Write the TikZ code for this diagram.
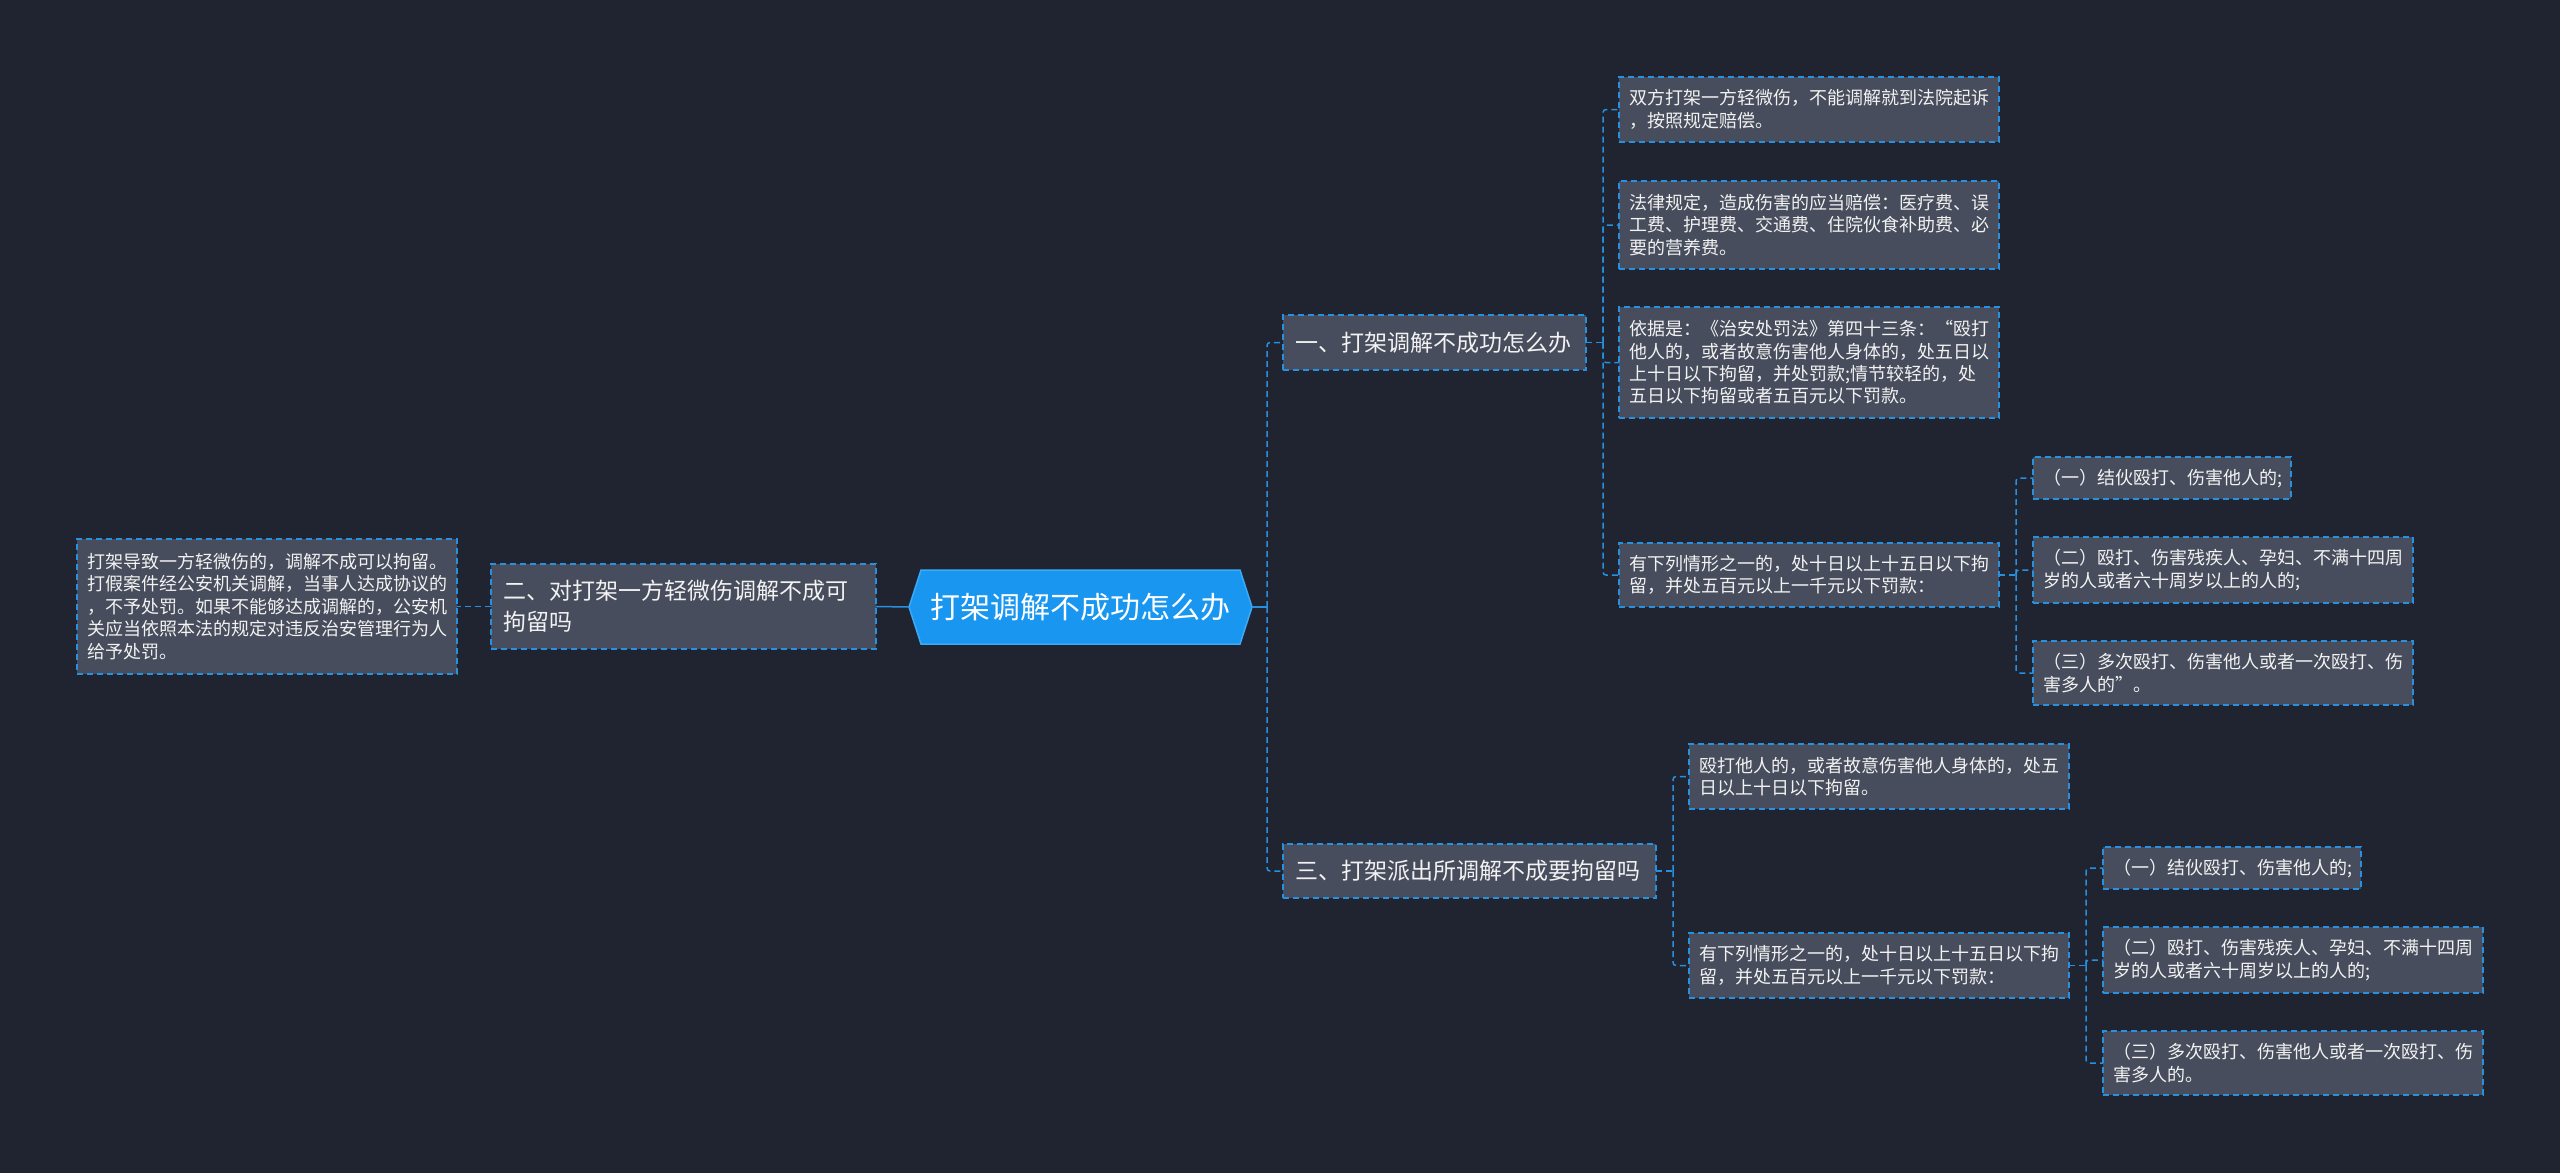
\documentclass[tikz,border=0pt]{standalone}
\usepackage{fontspec}
\setmainfont{Noto Sans CJK SC}
\usetikzlibrary{backgrounds}
\definecolor{bg}{RGB}{32,36,48}
\definecolor{boxfill}{RGB}{71,77,92}
\definecolor{edgeblue}{RGB}{38,145,225}
\definecolor{rootblue}{RGB}{25,150,240}
\definecolor{rootedge}{RGB}{60,170,245}
\definecolor{txt}{RGB}{242,242,242}
\tikzset{
  box/.style={draw=edgeblue, fill=boxfill, dash pattern=on 6pt off 4pt, line width=1.5pt,
    text=txt, align=left, inner xsep=10pt, inner ysep=0pt, outer sep=0pt},
  leaf/.style={box, font=\fontsize{18}{22.4}\selectfont},
  branch/.style={box, inner xsep=12pt, font=\fontsize{23}{31}\selectfont},
  rootnode/.style={minimum width=343pt, minimum height=74pt,
    text=white, inner sep=0pt, outer sep=0pt, font=\fontsize{30}{34}\selectfont},
  roothex/.style={fill=rootblue, draw=rootedge, line width=1.5pt},
  conn/.style={draw=edgeblue, line width=1.5pt},
  dconn/.style={conn, dash pattern=on 6pt off 4pt, rounded corners=3pt},
}
\begin{document}
\begin{tikzpicture}[x=1pt,y=-1pt]
\useasboundingbox (0,0) rectangle (2560,1173);
\begin{pgfonlayer}{background}
\fill[bg] (0,0) rectangle (2560,1173);
\end{pgfonlayer}

% root
\node[rootnode] (root) at (1080.5,607) {打架调解不成功怎么办};
\begin{pgfonlayer}{background}
\path[roothex] (root.west) -- ([xshift=12pt]root.north west) -- ([xshift=-12pt]root.north east)
  -- (root.east) -- ([xshift=-12pt]root.south east) -- ([xshift=12pt]root.south west) -- cycle;
\end{pgfonlayer}

% left side
\node[branch, minimum width=385pt, minimum height=85pt, text width=361pt] (L) at (683.5,606.5)
  {二、对打架一方轻微伤调解不成可\\拘留吗};
\node[leaf, minimum width=380pt, minimum height=135pt, text width=360pt] (LL) at (267,606.5)
  {打架导致一方轻微伤的，调解不成可以拘留。\\打假案件经公安机关调解，当事人达成协议的\\，不予处罚。如果不能够达成调解的，公安机\\关应当依照本法的规定对违反治安管理行为人\\给予处罚。};

% branch 1
\node[branch, minimum width=303pt, minimum height=55pt, text width=279pt] (B1) at (1434.5,342.5)
  {一、打架调解不成功怎么办};
\node[leaf, minimum width=380pt, minimum height=65pt, text width=360pt] (A1) at (1809,109.5)
  {双方打架一方轻微伤，不能调解就到法院起诉\\，按照规定赔偿。};
\node[leaf, minimum width=380pt, minimum height=88pt, text width=360pt] (A2) at (1809,225)
  {法律规定，造成伤害的应当赔偿：医疗费、误\\工费、护理费、交通费、住院伙食补助费、必\\要的营养费。};
\node[leaf, minimum width=380pt, minimum height=111pt, text width=360pt] (A3) at (1809,362.5)
  {依据是：《治安处罚法》第四十三条：“殴打\\他人的，或者故意伤害他人身体的，处五日以\\上十日以下拘留，并处罚款;情节较轻的，处\\五日以下拘留或者五百元以下罚款。};
\node[leaf, minimum width=380pt, minimum height=64pt, text width=360pt] (A4) at (1809,575)
  {有下列情形之一的，处十日以上十五日以下拘\\留，并处五百元以上一千元以下罚款：};
\node[leaf, minimum width=258pt, minimum height=42pt, text width=238pt] (G1) at (2162,478)
  {（一）结伙殴打、伤害他人的;};
\node[leaf, minimum width=380pt, minimum height=66pt, text width=360pt] (G2) at (2223,570)
  {（二）殴打、伤害残疾人、孕妇、不满十四周\\岁的人或者六十周岁以上的人的;};
\node[leaf, minimum width=380pt, minimum height=64pt, text width=360pt] (G3) at (2223,673)
  {（三）多次殴打、伤害他人或者一次殴打、伤\\害多人的”。};

% branch 3
\node[branch, minimum width=373pt, minimum height=54pt, text width=349pt] (B3) at (1469.5,871)
  {三、打架派出所调解不成要拘留吗};
\node[leaf, minimum width=380pt, minimum height=65pt, text width=360pt] (C1) at (1879,776.5)
  {殴打他人的，或者故意伤害他人身体的，处五\\日以上十日以下拘留。};
\node[leaf, minimum width=380pt, minimum height=65pt, text width=360pt] (C2) at (1879,965.5)
  {有下列情形之一的，处十日以上十五日以下拘\\留，并处五百元以上一千元以下罚款：};
\node[leaf, minimum width=258pt, minimum height=42pt, text width=238pt] (D1) at (2232,868)
  {（一）结伙殴打、伤害他人的;};
\node[leaf, minimum width=380pt, minimum height=66pt, text width=360pt] (D2) at (2293,960)
  {（二）殴打、伤害残疾人、孕妇、不满十四周\\岁的人或者六十周岁以上的人的;};
\node[leaf, minimum width=380pt, minimum height=64pt, text width=360pt] (D3) at (2293,1063)
  {（三）多次殴打、伤害他人或者一次殴打、伤\\害多人的。};

% connectors
\coordinate (tR) at ([xshift=15pt]root.east);
\draw[conn] (root.east) -- (tR);
\draw[dconn] (tR) |- (B1.west);
\draw[dconn] (tR) |- (B3.west);
\draw[conn] (root.west) -- (L.east);
\draw[dconn] (L.west) -- (LL.east);

\coordinate (t1) at ([xshift=17pt]B1.east);
\draw[dconn] (B1.east) -- (t1);
\foreach \n in {A1,A2,A3,A4} \draw[dconn] (t1) |- (\n.west);

\coordinate (t4) at ([xshift=17pt]A4.east);
\draw[dconn] (A4.east) -- (t4);
\foreach \n in {G1,G2,G3} \draw[dconn] (t4) |- (\n.west);

\coordinate (t3) at ([xshift=17pt]B3.east);
\draw[dconn] (B3.east) -- (t3);
\foreach \n in {C1,C2} \draw[dconn] (t3) |- (\n.west);

\coordinate (t6) at ([xshift=17pt]C2.east);
\draw[dconn] (C2.east) -- (t6);
\foreach \n in {D1,D2,D3} \draw[dconn] (t6) |- (\n.west);
\end{tikzpicture}
\end{document}
